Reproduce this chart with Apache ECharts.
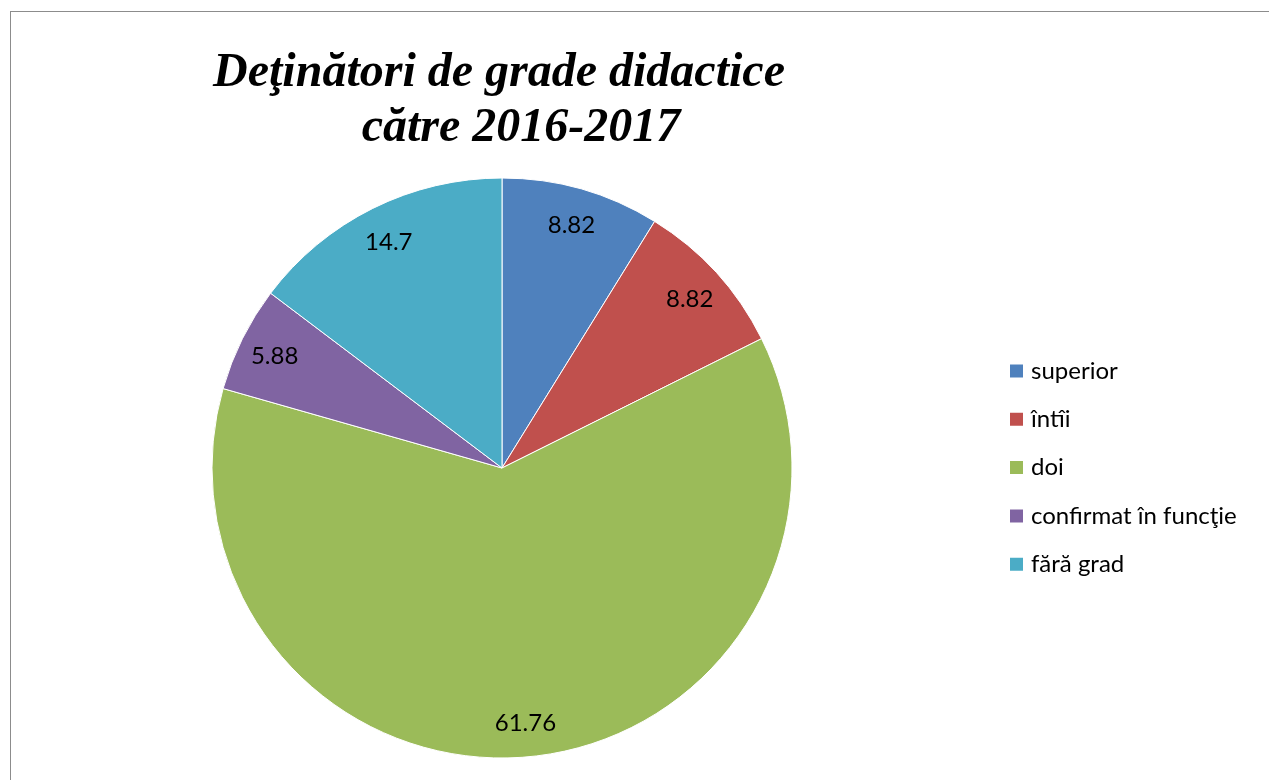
<!DOCTYPE html>
<html>
<head>
<meta charset="utf-8">
<script src="https://cdn.jsdelivr.net/npm/echarts@6/dist/echarts.min.js"></script>
<style>
  html, body { margin: 0; padding: 0; background: #fff; overflow: hidden; }
  #frame { position: absolute; left: 9.5px; top: 11px; width: 1300px; height: 800px;
           border-left: 1.5px solid #8c8c8c; border-top: 1.5px solid #8c8c8c; box-sizing: border-box; }
  #chart { position: absolute; left: 0; top: 0; width: 1269px; height: 780px; }
</style>
</head>
<body>
<div id="frame"></div>
<div id="chart"></div>
<script>
const titleLines = ['Deţinători de grade didactice', 'către 2016-2017'];
const categories = ['superior', 'întîi', 'doi', 'confirmat în funcţie', 'fără grad'];
const values = [8.82, 8.82, 61.76, 5.88, 14.7];
const colors = ['#4F81BD', '#C0504D', '#9BBB59', '#8064A2', '#4BACC6'];

const pieData = categories.map((name, i) => ({ name: name, value: values[i] }));

const chart = echarts.init(document.getElementById('chart'), null, { renderer: 'canvas' });
const titleStyle = {
  fontFamily: '"Liberation Serif", "Times New Roman", serif',
  fontSize: 48, fontWeight: 'bold', fontStyle: 'italic', color: '#000', lineHeight: 48
};
chart.setOption({
  animation: false,
  color: colors,
  title: [
    { text: titleLines[0], left: 499, top: 50, padding: 0, textAlign: 'center', textStyle: titleStyle },
    { text: titleLines[1], left: 521, top: 105, padding: 0, textAlign: 'center', textStyle: titleStyle }
  ],
  legend: {
    orient: 'vertical',
    left: 1008,
    top: 359,
    padding: 0,
    icon: 'rect',
    itemWidth: 15,
    itemHeight: 15,
    itemGap: 24.3,
    data: categories,
    textStyle: { fontFamily: 'Lato, "Open Sans", sans-serif', fontSize: 24, color: '#000', lineHeight: 24, padding: [0, 0, 0, 2] }
  },
  series: [
    {
      type: 'pie',
      center: [502, 468],
      radius: [0, 290],
      startAngle: 90,
      clockwise: true,
      silent: true,
      label: { show: false },
      labelLine: { show: false },
      itemStyle: { borderColor: '#ffffff', borderWidth: 1 },
      data: pieData
    },
    {
      type: 'pie',
      center: [502, 470],
      radius: [212, 290],
      startAngle: 90,
      clockwise: true,
      silent: true,
      itemStyle: { color: 'rgba(0,0,0,0)', borderWidth: 0 },
      label: {
        show: true, position: 'inside', formatter: '{c}',
        fontFamily: 'Lato, "Open Sans", sans-serif', fontSize: 24, color: '#000'
      },
      labelLine: { show: false },
      data: pieData
    }
  ]
});
</script>
</body>
</html>
